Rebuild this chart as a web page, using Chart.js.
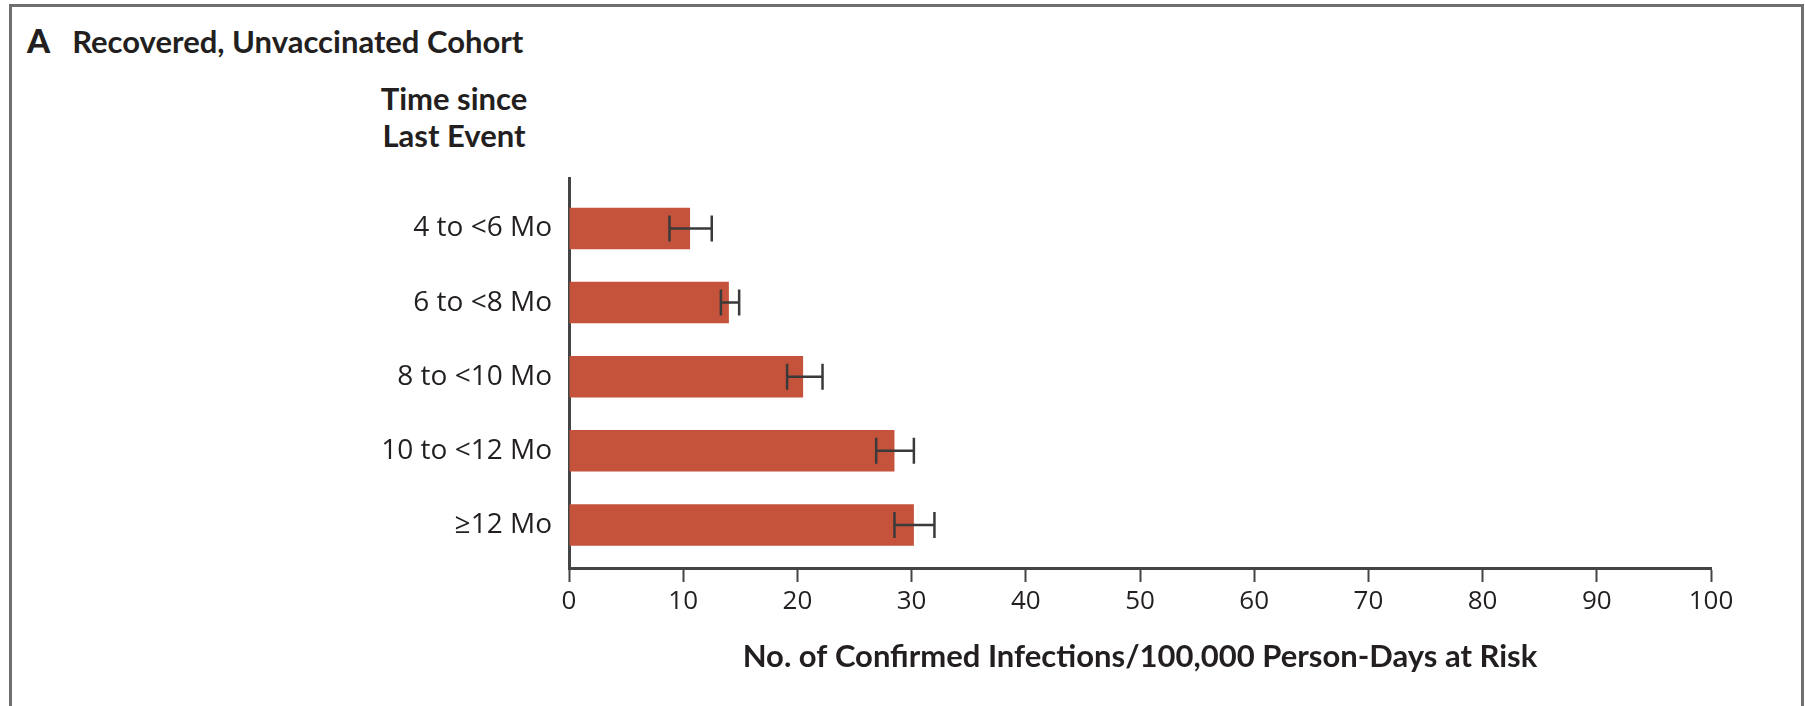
<!DOCTYPE html>
<html>
<head>
<meta charset="utf-8">
<script src="https://cdn.jsdelivr.net/npm/chart.js@4/dist/chart.umd.min.js"></script>
<style>
  html, body { margin: 0; padding: 0; background: #fff; }
  #wrap { position: relative; width: 1805px; height: 706px; overflow: hidden; }
  #frame {
    position: absolute; left: 9px; top: 4px; width: 1789px; height: 760px;
    border: 3px solid #6f6f6f; border-bottom: none;
  }
  .head {
    position: absolute; font-family: Lato, sans-serif; font-weight: 700;
    font-size: 31px; line-height: 37px; color: #231f20; white-space: nowrap;
  }
  #panel { left: 27px; top: 22px; }
  #panel b { font-size: 33px; margin-right: 22px; }
  #ylab { left: 354px; top: 80px; width: 200px; text-align: center; }
  canvas { position: absolute; left: 0; top: 0; }
</style>
</head>
<body>
<div id="wrap">
  <div id="frame"></div>
  <div class="head" id="panel"><b>A</b>Recovered, Unvaccinated Cohort</div>
  <div class="head" id="ylab">Time since<br>Last Event</div>
  <canvas id="barChart" width="1805" height="706"></canvas>
</div>
<script>
// time since last event (rows, top to bottom)
const groups = ['4 to <6 Mo', '6 to <8 Mo', '8 to <10 Mo', '10 to <12 Mo', '\u226512 Mo'];
// confirmed infections per 100,000 person-days at risk
const rates = [10.6, 14.0, 20.5, 28.5, 30.2];
const ciLow = [8.8, 13.3, 19.1, 26.9, 28.5];
const ciHigh = [12.5, 14.9, 22.2, 30.2, 32.0];
const xTicks = [0, 10, 20, 30, 40, 50, 60, 70, 80, 90, 100];

const ink = '#231f20';

// whiskers for the confidence intervals
const errorBars = {
  id: 'errorBars',
  afterDatasetsDraw(chart) {
    const ctx = chart.ctx;
    const xs = chart.scales.x;
    const meta = chart.getDatasetMeta(0);
    ctx.save();
    ctx.strokeStyle = '#3a3a3a';
    ctx.lineWidth = 2.5;
    meta.data.forEach((bar, i) => {
      const y = bar.y;
      const x1 = xs.getPixelForValue(ciLow[i]);
      const x2 = xs.getPixelForValue(ciHigh[i]);
      const h = 13;
      ctx.beginPath();
      ctx.moveTo(x1, y); ctx.lineTo(x2, y);
      ctx.moveTo(x1, y - h); ctx.lineTo(x1, y + h);
      ctx.moveTo(x2, y - h); ctx.lineTo(x2, y + h);
      ctx.stroke();
    });
    ctx.restore();
  }
};

const ctx = document.getElementById('barChart').getContext('2d');
new Chart(ctx, {
  type: 'bar',
  data: {
    datasets: [{
      data: rates.map((v, i) => ({ x: v, y: i })),
      backgroundColor: '#c5533b',
      borderWidth: 0,
      barPercentage: 0.56,
      categoryPercentage: 1
    }]
  },
  options: {
    indexAxis: 'y',
    responsive: false,
    devicePixelRatio: 1,
    animation: false,
    layout: { padding: { top: 178, right: 94, bottom: 0, left: 0 } },
    plugins: { legend: { display: false }, tooltip: { enabled: false } },
    scales: {
      x: {
        type: 'linear',
        min: 0,
        max: 100,
        afterBuildTicks: s => { s.ticks = xTicks.map(v => ({ value: v })); },
        afterFit: s => { s.height = 138; },
        border: { display: true, color: '#444', width: 3 },
        grid: { drawOnChartArea: false, drawTicks: true, tickLength: 14, tickColor: '#444', tickWidth: 2 },
        ticks: { padding: 4, color: ink, font: { family: 'Open Sans', size: 26 } },
        title: {
          display: true,
          text: 'No. of Confirmed Infections/100,000 Person-Days at Risk',
          color: ink,
          font: { family: 'Lato', size: 31, weight: 'bold' },
          padding: { top: 0, bottom: 30 }
        }
      },
      y: {
        type: 'linear',
        reverse: true,
        offset: false,
        min: -0.68,
        max: 4.58,
        afterBuildTicks: s => { s.ticks = groups.map((g, i) => ({ value: i })); },
        afterFit: s => { s.width = 569; },
        border: { display: true, color: '#444', width: 3 },
        grid: { display: false, offset: false },
        ticks: {
          padding: 9,
          color: ink,
          font: { family: 'Open Sans', size: 28 },
          callback: v => groups[v]
        }
      }
    }
  },
  plugins: [errorBars]
});
</script>
</body>
</html>
